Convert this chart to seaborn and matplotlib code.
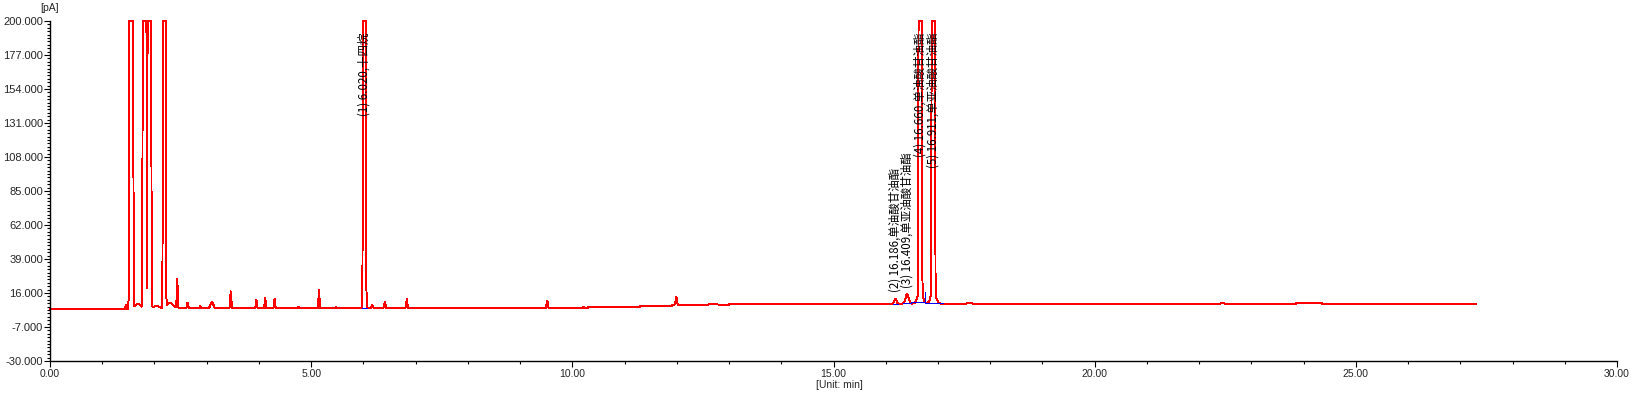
import numpy as np
import pandas as pd
import seaborn as sns
import matplotlib.pyplot as plt
from matplotlib.ticker import FixedLocator, MultipleLocator, FormatStrFormatter

# peak table: retention time (min), height above baseline (pA), sigma (min)
# the detector output is clipped at 200 pA, so the big solvent / sample peaks get a very large height
peak_rt = [1.454, 1.555, 1.680, 1.810, 1.902, 1.945, 2.040, 2.190, 2.300, 2.435,
           2.634, 2.876, 3.10, 3.46, 3.95, 4.12, 4.30, 4.76, 5.15, 5.47,
           6.020, 6.17, 6.41, 6.83, 9.52, 10.21, 11.99, 12.70,
           16.186, 16.409, 16.660, 16.660, 16.911, 16.911, 17.60, 22.45]
peak_height = [2.8, 1e5, 3.0, 1e5, 1e5, 20.0, 1.5, 1e5, 3.5, 19.7,
               3.7, 1.5, 4.3, 11.4, 5.6, 6.7, 6.2, 1.0, 12.3, 0.6,
               1e5, 2.2, 4.3, 6.0, 5.1, 0.8, 5.6, 0.6,
               3.4, 6.5, 1e5, 9.0, 1e5, 9.0, 0.6, 0.8]
peak_sigma = [0.008, 0.0115, 0.050, 0.0105, 0.0105, 0.006, 0.050, 0.009, 0.060, 0.008,
              0.010, 0.012, 0.025, 0.010, 0.009, 0.009, 0.010, 0.010, 0.009, 0.010,
              0.0092, 0.012, 0.012, 0.010, 0.012, 0.012, 0.012, 0.080,
              0.020, 0.030, 0.010, 0.045, 0.010, 0.045, 0.100, 0.040]

# baseline level (pA) starting at each time (min)
base_start = [0.0, 1.50, 10.30, 11.30, 11.90, 13.00, 15.50, 17.30, 23.85, 24.35]
base_level = [5.0, 5.7, 6.3, 7.2, 7.9, 8.4, 8.8, 8.4, 9.3, 8.4]
run_end = 27.3

# integration baselines (blue)
blue_t0 = [5.97, 16.13, 16.33, 16.48, 16.76]
blue_t1 = [6.07, 16.24, 16.48, 16.76, 17.10]
blue_y = [5.7, 8.8, 9.0, 9.6, 9.1]
drop_t = [16.76]
drop_y0 = [9.3]
drop_y1 = [17.0]

# peak labels
label_text = ["(1) 6.020,十四烷", "(2) 16.186,单油酸甘油酯", "(3) 16.409,单亚油酸甘油酯",
              "(4) 16.660,单油酸甘油酯", "(5) 16.911,单亚油酸甘油酯"]
label_rt = [6.020, 16.186, 16.409, 16.660, 16.911]
label_y = [192.0, 16.6, 19.3, 192.0, 192.0]
label_anchor = ["top", "bottom", "bottom", "top", "top"]

# build the trace
t = np.arange(0, run_end, 0.001)
idx = np.searchsorted(base_start, t, side="right") - 1
signal = np.array(base_level)[idx]
for rt, h, s in zip(peak_rt, peak_height, peak_sigma):
    signal = signal + h * np.exp(-(t - rt) ** 2 / (2 * s ** 2))
signal = np.minimum(signal, 200.0)
df = pd.DataFrame({"time": t, "pA": signal})

sns.set_style("ticks")
plt.rcParams["font.family"] = ["Liberation Sans", "DejaVu Sans"]

fig = plt.figure(figsize=(16.36, 3.95), dpi=100)
ax = fig.add_axes([50 / 1636, 1 - 361 / 395, 1567 / 1636, 340 / 395])

sns.lineplot(data=df, x="time", y="pA", ax=ax, color="#ff0000", linewidth=0.7,
             estimator=None, sort=False, antialiased=False, clip_on=False)
ax.hlines(blue_y, blue_t0, blue_t1, color="#0000ff", linewidth=0.7, antialiased=False)
ax.vlines(drop_t, drop_y0, drop_y1, color="#0000ff", linewidth=0.7, antialiased=False)

for txt, rt, y, va in zip(label_text, label_rt, label_y, label_anchor):
    ax.text(rt, y, txt, rotation=90, ha="center", va=va, fontsize=8.3,
            family=["Noto Sans CJK SC", "DejaVu Sans"], color="black")

ax.set_xlim(0, 30)
ax.set_ylim(-30, 200)
ax.set_xticks(np.arange(0, 31, 5))
ax.xaxis.set_minor_locator(MultipleLocator(1))
ax.xaxis.set_major_formatter(FormatStrFormatter("%.2f"))
ax.set_yticks(np.linspace(-30, 200, 11))
ax.yaxis.set_minor_locator(FixedLocator(np.linspace(-30, 200, 101)))
ax.yaxis.set_major_formatter(FormatStrFormatter("%.3f"))
ax.tick_params(axis="both", which="major", length=4, width=0.8, color="black", pad=1)
ax.tick_params(axis="both", which="minor", length=2.5, width=0.8, color="black")
ax.tick_params(axis="y", labelsize=8)
ax.tick_params(axis="x", labelsize=7.5, pad=2)

sns.despine(ax=ax)
for side in ["left", "bottom"]:
    ax.spines[side].set_linewidth(1.0)
    ax.spines[side].set_color("black")

ax.set_ylabel("")
ax.set_xlabel("[Unit: min]", fontsize=7.5)
ax.xaxis.set_label_coords(0.504, -0.056)
ax.text(0.0, 1 + 13 / 340, "[pA]", transform=ax.transAxes, ha="center", va="center", fontsize=7.5)

fig.savefig("out.png", dpi=100)
